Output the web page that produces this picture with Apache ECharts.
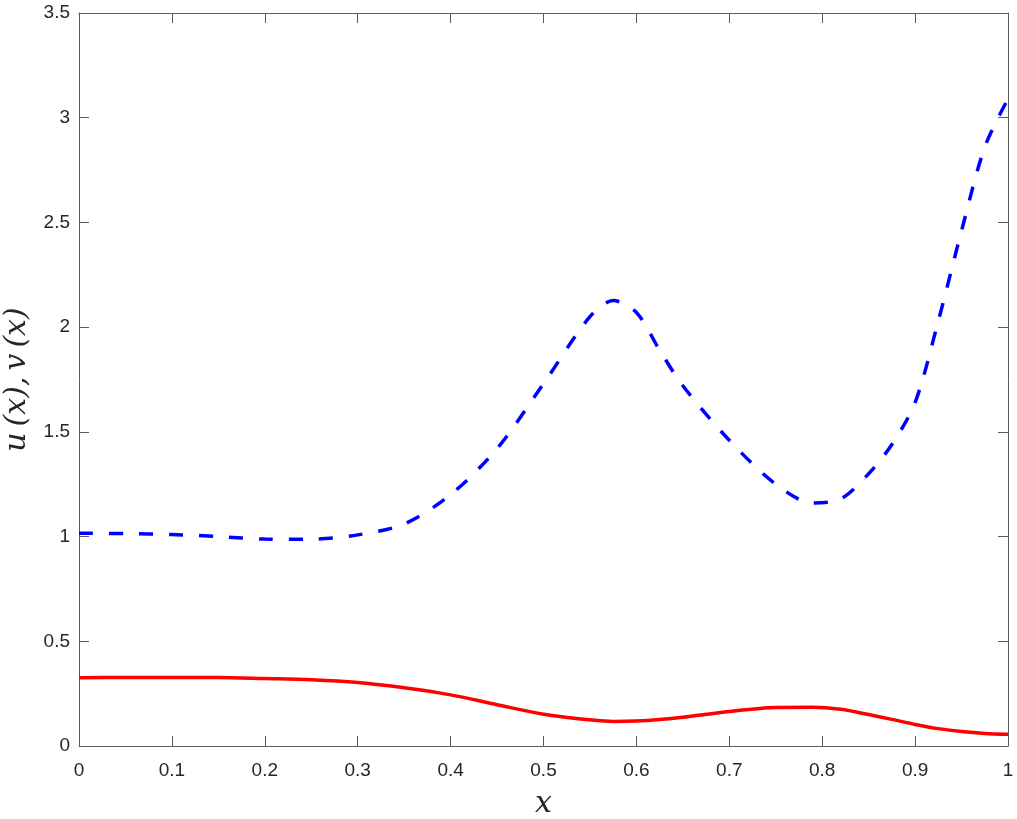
<!DOCTYPE html>
<html>
<head>
<meta charset="utf-8">
<script src="https://cdn.jsdelivr.net/npm/echarts@6/dist/echarts.min.js"></script>
<style>html,body{margin:0;padding:0;background:#fff;}#c{width:1017px;height:819px;}</style>
</head>
<body>
<div id="c"></div>
<script>
const xs = [0,0.05,0.1,0.15,0.2,0.25,0.3,0.35,0.4,0.45,0.5,0.55,0.575,0.6,0.625,0.65,0.7,0.75,0.79,0.82,0.85,0.875,0.9,0.925,0.95,0.975,1];
const vValues = [1.016,1.014,1.010,1.000,0.988,0.987,1.008,1.06,1.20,1.42,1.73,2.05,2.127,2.07,1.89,1.72,1.46,1.25,1.16,1.18,1.30,1.44,1.64,2.03,2.46,2.86,3.09];
const uValues = [0.326,0.327,0.327,0.327,0.322,0.316,0.303,0.278,0.244,0.197,0.152,0.125,0.117,0.119,0.126,0.137,0.165,0.184,0.185,0.175,0.15,0.127,0.103,0.083,0.069,0.06,0.056];
const xLabel = 'x';
const yLabel = 'u\u2009(x),\u2009v\u2009(x)';

const axisCol = '#5a5a5a';
const tickFont = {fontFamily:'Liberation Sans, Arial, sans-serif', fontSize:19, color:'#262626'};
const nameFont = {fontFamily:'DejaVu Serif, Liberation Serif, serif', fontStyle:'italic', fontSize:30, color:'#262626'};
const chart = echarts.init(document.getElementById('c'), null, {renderer:'canvas'});
const pair = (ys) => xs.map((x,i)=>[x, ys[i]]);
const fmt = (v)=>String(+v.toFixed(1));
chart.setOption({
  animation:false,
  backgroundColor:'#fff',
  grid:{left:79, right:9, top:13, bottom:73, containLabel:false, outerBoundsMode:'none'},
  xAxis:[{
    type:'value', min:0, max:1, interval:0.1, position:'bottom',
    axisLine:{show:true, onZero:false, lineStyle:{color:axisCol, width:1}},
    axisTick:{show:true, inside:true, length:10, lineStyle:{color:axisCol}},
    splitLine:{show:false},
    axisLabel:Object.assign({margin:15, formatter:fmt}, tickFont),
    name:xLabel, nameLocation:'middle', nameGap:43, nameTextStyle:nameFont
  },{
    type:'value', min:0, max:1, interval:0.1, position:'top',
    axisLine:{show:true, onZero:false, lineStyle:{color:axisCol, width:1}},
    axisTick:{show:true, inside:true, length:10, lineStyle:{color:axisCol}},
    axisLabel:{show:false}, splitLine:{show:false}
  }],
  yAxis:[{
    type:'value', min:0, max:3.5, interval:0.5, position:'left',
    axisLine:{show:true, onZero:false, lineStyle:{color:axisCol, width:1}},
    axisTick:{show:true, inside:true, length:10, lineStyle:{color:axisCol}},
    splitLine:{show:false},
    axisLabel:Object.assign({margin:9, formatter:fmt}, tickFont),
    name:yLabel, nameLocation:'middle', nameGap:45, nameRotate:90, nameTextStyle:nameFont
  },{
    type:'value', min:0, max:3.5, interval:0.5, position:'right',
    axisLine:{show:true, onZero:false, lineStyle:{color:axisCol, width:1}},
    axisTick:{show:true, inside:true, length:10, lineStyle:{color:axisCol}},
    axisLabel:{show:false}, splitLine:{show:false}
  }],
  series:[{
    type:'line', name:'v', data:pair(vValues), smooth:0.3, showSymbol:false,
    lineStyle:{color:'#0000ff', width:3.5, type:[14,16]}, clip:true
  },{
    type:'line', name:'u', data:pair(uValues), smooth:0.3, showSymbol:false,
    lineStyle:{color:'#ff0000', width:3.5}, clip:true
  },{
    type:'line', name:'frame', xAxisIndex:1, yAxisIndex:1, data:[], showSymbol:false, silent:true
  }]
});
</script>
</body>
</html>
